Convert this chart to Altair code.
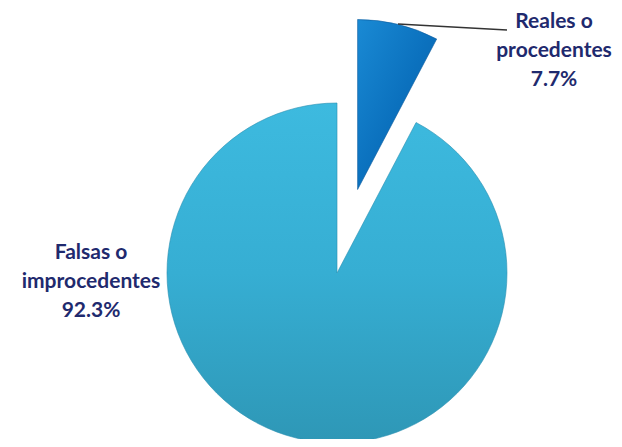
import math
import altair as alt
import pandas as pd

# ---- data ----
categories = ["Reales o procedentes", "Falsas o improcedentes"]
values = [7.7, 92.3]
order = [0, 1]
label_text = ["Reales o\nprocedentes\n7.7%", "Falsas o\nimprocedentes\n92.3%"]

df = pd.DataFrame({"category": categories, "value": values, "order": order})
labels_df = pd.DataFrame({"category": categories, "label": label_text})

W, H = 606, 431
CX, CY = 329, 265
R = 170
EXPLODE = 86

mid = (values[0] / 2) / sum(values) * 2 * math.pi
DX = EXPLODE * math.sin(mid)
DY = -EXPLODE * math.cos(mid)

base = alt.Chart(df).transform_window(
    cum="sum(value)", sort=[alt.SortField("order")], frame=[None, 0]
).transform_calculate(start="datum.cum - datum.value")

theta = alt.Theta("start:Q", scale=alt.Scale(domain=[0, 100], range=[0, 2 * math.pi]))
theta2 = alt.Theta2("cum:Q")

big_grad = alt.LinearGradient(
    gradient="linear", x1=0, x2=0, y1=0, y2=1,
    stops=[alt.GradientStop(color="#3dbadf", offset=0),
           alt.GradientStop(color="#36aed3", offset=0.5),
           alt.GradientStop(color="#2e97b6", offset=1)],
)
small_grad = alt.LinearGradient(
    gradient="linear", x1=0, x2=1, y1=0, y2=1,
    stops=[alt.GradientStop(color="#1a8ad4", offset=0),
           alt.GradientStop(color="#0b71be", offset=0.5),
           alt.GradientStop(color="#0a5c a2".replace(" ", ""), offset=1)],
)

big = base.transform_filter(alt.datum.category == categories[1]).mark_arc(
    outerRadius=R, color=big_grad, stroke="#2a8fb0", strokeWidth=1, strokeOpacity=0.6
).encode(theta=theta, theta2=theta2, x=alt.value(CX), y=alt.value(CY))

small = base.transform_filter(alt.datum.category == categories[0]).mark_arc(
    outerRadius=R, color=small_grad, stroke="#0a5a9c", strokeWidth=1, strokeOpacity=0.6
).encode(theta=theta, theta2=theta2, x=alt.value(CX + DX), y=alt.value(CY + DY))

leader = alt.Chart(df).transform_filter(alt.datum.category == categories[0]).mark_rule(
    color="#333333", strokeWidth=1.3
).encode(x=alt.value(390), y=alt.value(16), x2=alt.value(499), y2=alt.value(22))

text_props = dict(
    font="Lato", fontSize=21, fontWeight="bold", color="#1f2a6e",
    lineBreak="\n", lineHeight=29, align="center", baseline="middle",
)

label_r = alt.Chart(labels_df).transform_filter(
    alt.datum.category == categories[0]
).mark_text(**text_props).encode(text="label:N", x=alt.value(546), y=alt.value(14))

label_f = alt.Chart(labels_df).transform_filter(
    alt.datum.category == categories[1]
).mark_text(**text_props).encode(text="label:N", x=alt.value(83), y=alt.value(245))

chart = alt.layer(big, small, leader, label_r, label_f).properties(
    width=W, height=H, autosize=alt.AutoSizeParams(type="none"), padding=0
).configure_view(stroke=None)

chart.save("out.html", embed_options={"renderer": "svg", "actions": False})
